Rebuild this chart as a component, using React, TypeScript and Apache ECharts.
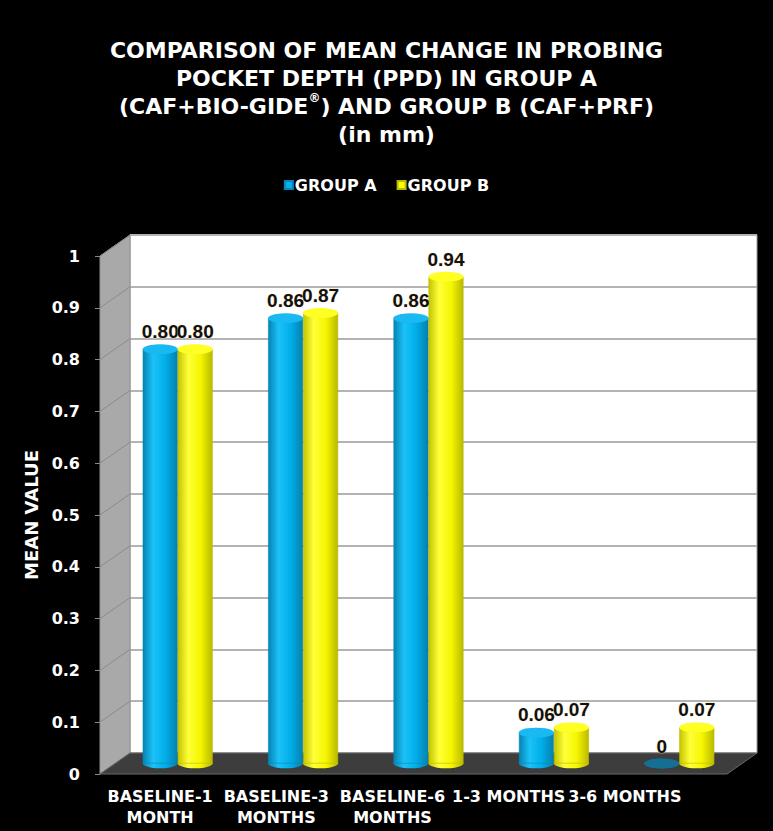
import React, { useEffect, useRef } from "react";
import * as echarts from "echarts";

const CATEGORIES = ["BASELINE-1\nMONTH", "BASELINE-3\nMONTHS", "BASELINE-6\nMONTHS", "1-3 MONTHS", "3-6 MONTHS"];
const GROUP_A = [0.8, 0.86, 0.86, 0.06, 0];
const GROUP_B = [0.8, 0.87, 0.94, 0.07, 0.07];
const SERIES_NAMES = ["GROUP A", "GROUP B"];
const Y_TICKS = [0, 0.1, 0.2, 0.3, 0.4, 0.5, 0.6, 0.7, 0.8, 0.9, 1];
const TITLE_LINES = [
  "COMPARISON OF MEAN CHANGE IN PROBING",
  "POCKET DEPTH (PPD) IN GROUP A",
  "(CAF+BIO-GIDE{sup|®}) AND GROUP B (CAF+PRF)",
  "(in mm)",
];

const FONT = "DejaVu Sans";
const LABEL_FONT = "Liberation Sans";
// layout of the pseudo-3D box
const FRONT_L = 100;
const DX = 30;
const DY = 21;
const PLOT_W = 627;
const PLOT_H = 518;
const FRONT_BOTTOM = 774;
const BAR_W = 35;
const ELL_H = 10;

const BLUE = "#00B0F0";
const YELLOW = "#FFFF00";

const blueSide = () =>
  new echarts.graphic.LinearGradient(0, 0, 1, 0, [
    { offset: 0, color: "#0583b3" },
    { offset: 0.3, color: "#1cc2f8" },
    { offset: 0.65, color: "#00aee9" },
    { offset: 1, color: "#0680ad" },
  ]);
const yellowSide = () =>
  new echarts.graphic.LinearGradient(0, 0, 1, 0, [
    { offset: 0, color: "#c4c400" },
    { offset: 0.3, color: "#ffff3a" },
    { offset: 0.65, color: "#f6f600" },
    { offset: 1, color: "#baba00" },
  ]);

const fmt = (v: number) => (v === 0 ? "0" : v.toFixed(2));

export default function App() {
  const ref = useRef<HTMLDivElement>(null);
  useEffect(() => {
    document.body.style.margin = "0";
    const chart = echarts.init(ref.current!, undefined, { renderer: "svg" });

    const frontTop = FRONT_BOTTOM - PLOT_H;
    const backL = FRONT_L + DX;
    const backTop = frontTop - DY;
    const backBottom = FRONT_BOTTOM - DY;
    const midL = FRONT_L + DX / 2;
    const midTop = frontTop - DY / 2;

    const sideLines = Y_TICKS.map((v) => ({
      type: "line",
      z: 1,
      shape: {
        x1: FRONT_L,
        y1: FRONT_BOTTOM - v * PLOT_H,
        x2: backL,
        y2: backBottom - v * PLOT_H,
      },
      style: { stroke: "#8a8a8a", lineWidth: 1 },
    }));

    const graphic: any[] = [
      {
        type: "polygon",
        z: 1,
        shape: {
          points: [
            [FRONT_L, frontTop],
            [backL, backTop],
            [backL, backBottom],
            [FRONT_L, FRONT_BOTTOM],
          ],
        },
        style: { fill: "#a9a9a9", stroke: "#8f8f8f", lineWidth: 1 },
      },
      ...sideLines,
      {
        type: "polygon",
        z: 1,
        shape: {
          points: [
            [FRONT_L, FRONT_BOTTOM],
            [backL, backBottom],
            [backL + PLOT_W, backBottom],
            [FRONT_L + PLOT_W, FRONT_BOTTOM],
          ],
        },
        style: { fill: "#3d3d3d", stroke: "#6a6a6a", lineWidth: 1 },
      },
    ];

    const labelStyle = {
      show: true,
      position: "top",
      distance: ELL_H / 2 + 3,
      color: "#111",
      fontFamily: LABEL_FONT,
      fontWeight: "bold",
      fontSize: 19,
      textBorderColor: "rgba(255,225,170,0.7)",
      textBorderWidth: 0.8,
      formatter: (p: any) => fmt(p.value),
    };

    const mk = (idx: number, values: number[]) => {
      const isA = idx === 0;
      const side = isA ? blueSide() : yellowSide();
      const topColor = isA ? "#1ab9f2" : "#ffff24";
      const edge = isA ? "#0a86b6" : "#b9b900";
      const xOff = isA ? "-50%" : "50%";
      return [
        {
          name: SERIES_NAMES[idx],
          type: "bar",
          xAxisIndex: 2,
          yAxisIndex: 2,
          barWidth: BAR_W,
          barGap: "0%",
          z: 3,
          label: labelStyle,
          data: values.map((v) => ({
            value: v,
            itemStyle: v === 0 ? { color: "rgba(0,0,0,0)", borderWidth: 0 } : undefined,
          })),
          itemStyle: { color: side, borderColor: edge, borderWidth: 0.6 },
        },
        {
          name: SERIES_NAMES[idx] + " base",
          type: "pictorialBar",
          xAxisIndex: 2,
          yAxisIndex: 2,
          symbol: "circle",
          symbolSize: [BAR_W, ELL_H],
          symbolPosition: "start",
          symbolOffset: [xOff, "50%"],
          z: 2,
          data: values.map((v) => ({
            value: v,
            itemStyle: v === 0 ? { color: "#146f94" } : { color: side, borderColor: edge, borderWidth: 0.6 },
          })),
        },
        {
          name: SERIES_NAMES[idx] + " top",
          type: "pictorialBar",
          xAxisIndex: 2,
          yAxisIndex: 2,
          symbol: "circle",
          symbolSize: [BAR_W, ELL_H],
          symbolPosition: "end",
          symbolOffset: [xOff, "-50%"],
          z: 4,
          data: values.map((v) => ({
            value: v,
            itemStyle:
              v === 0
                ? { color: "#146f94" }
                : { color: topColor, borderColor: edge, borderWidth: 0.8 },
          })),
        },
      ];
    };

    const hiddenCat = (gridIndex: number) => ({
      type: "category",
      gridIndex,
      data: CATEGORIES,
      axisLine: { show: false },
      axisTick: { show: false },
      axisLabel: { show: false },
    });
    const hiddenVal = (gridIndex: number) => ({
      type: "value",
      gridIndex,
      min: 0,
      max: 1,
      interval: 0.1,
      axisLine: { show: false },
      axisTick: { show: false },
      axisLabel: { show: false },
      splitLine: { show: false },
    });

    chart.setOption({
      animation: false,
      backgroundColor: "#000",
      title: {
        text: TITLE_LINES.join("\n"),
        left: "center",
        top: 31,
        textStyle: {
          color: "#fff",
          fontFamily: FONT,
          fontWeight: "bold",
          fontSize: 22,
          lineHeight: 28,
          rich: {
            sup: {
              color: "#fff",
              fontFamily: FONT,
              fontWeight: "bold",
              fontSize: 12,
              lineHeight: 28,
              verticalAlign: "top",
              padding: [0, 0, 10, 0],
            },
          },
        },
      },
      legend: {
        top: 172,
        left: "center",
        icon: "rect",
        itemWidth: 8,
        itemHeight: 8,
        itemGap: 20,
        selectedMode: false,
        textStyle: { color: "#fff", fontFamily: FONT, fontWeight: "bold", fontSize: 16, padding: [0, 0, 0, -3] },
        data: [
          { name: SERIES_NAMES[0], itemStyle: { color: BLUE } },
          { name: SERIES_NAMES[1], itemStyle: { color: YELLOW } },
        ],
      },
      grid: [
        {
          left: backL,
          top: backTop,
          width: PLOT_W,
          height: PLOT_H,
          show: true,
          backgroundColor: "#fff",
          borderColor: "#9a9a9a",
          borderWidth: 1,
        },
        { left: FRONT_L, top: frontTop, width: PLOT_W, height: PLOT_H },
        { left: midL, top: midTop, width: PLOT_W, height: PLOT_H },
        { left: 102, top: frontTop, width: 581, height: PLOT_H },
      ],
      xAxis: [
        hiddenCat(0),
        hiddenCat(1),
        hiddenCat(2),
        {
          type: "category",
          gridIndex: 3,
          data: CATEGORIES,
          axisLine: { show: false },
          axisTick: { show: false },
          axisLabel: {
            show: true,
            interval: 0,
            margin: 12,
            color: "#fff",
            fontFamily: FONT,
            fontWeight: "bold",
            fontSize: 16,
            lineHeight: 21,
          },
        },
      ],
      yAxis: [
        {
          ...hiddenVal(0),
          splitLine: { show: true, lineStyle: { color: "#b3b3b3", width: 2 } },
        },
        {
          type: "value",
          gridIndex: 1,
          min: 0,
          max: 1,
          interval: 0.1,
          name: "MEAN VALUE",
          nameLocation: "middle",
          nameGap: 57,
          nameRotate: 90,
          nameTextStyle: { color: "#fff", fontFamily: FONT, fontWeight: "bold", fontSize: 18 },
          axisLine: { show: false },
          axisTick: { show: true, length: 5, lineStyle: { color: "#8a8a8a" } },
          axisLabel: {
            show: true,
            margin: 20,
            color: "#fff",
            fontFamily: FONT,
            fontWeight: "bold",
            fontSize: 16,
          },
          splitLine: { show: false },
        },
        hiddenVal(2),
        hiddenVal(3),
      ],
      graphic,
      series: [...mk(0, GROUP_A), ...mk(1, GROUP_B)],
    });
    return () => chart.dispose();
  }, []);
  return <div ref={ref} style={{ width: 773, height: 831 }} />;
}
